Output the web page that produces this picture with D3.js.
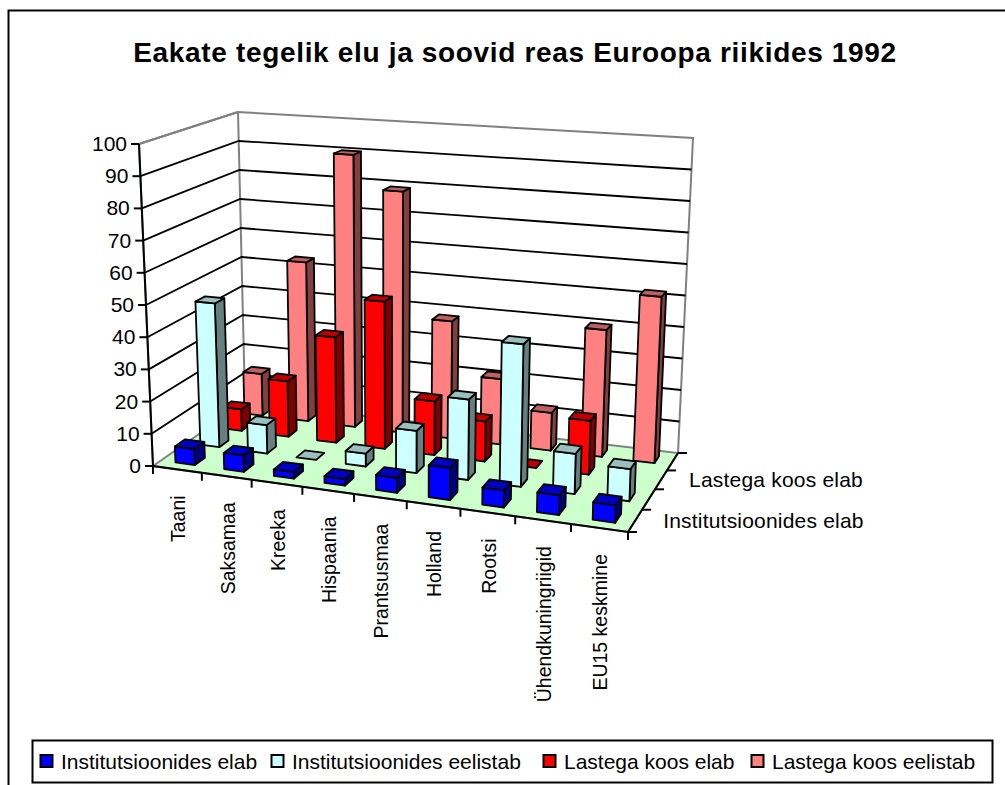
<!DOCTYPE html>
<html><head><meta charset="utf-8">
<script src="https://cdn.jsdelivr.net/npm/d3@7"></script>
<style>html,body{margin:0;padding:0;background:#fff}svg{display:block}text{font-family:"Liberation Sans",Arial,sans-serif;fill:#000}</style>
</head><body><svg id="c" width="1005" height="785"></svg>
<script>
const title = "Eakate tegelik elu ja soovid reas Euroopa riikides 1992";
const categories = ["Taani","Saksamaa","Kreeka","Hispaania","Prantsusmaa","Holland","Rootsi","Ühendkuningriigid","EU15 keskmine"];
const seriesNames = ["Institutsioonides elab","Institutsioonides eelistab","Lastega koos elab","Lastega koos eelistab"];
const depthLabels = ["Institutsioonides elab","Lastega koos elab"];
const institutsioonidesElab = [5,5,2,2,4.5,9.5,5,5.7,5];
const institutsioonidesEelistab = [46,9,0,4,13,24.5,43,12,9.5];
const lastegaKoosElab = [7,18,34,47,17,12.5,0,16.5,null];
const lastegaKoosEelistab = [14,53,90,79,38,21,12,40,52];
const seriesValues = [institutsioonidesElab,institutsioonidesEelistab,lastegaKoosElab,lastegaKoosEelistab];
const valueTicks = [0,10,20,30,40,50,60,70,80,90,100];
const fills = ["#0000ff","#ccffff","#ff0000","#ff8080"];
const tops  = ["#0000c0","#99bfbf","#c00000","#bf6060"];
const sides = ["#000080","#668080","#800000","#804040"];

const box = {FL0:[153,466],FR0:[628,532],BL0:[245,402],BR0:[678,453],
             FL1:[139,144],FR1:[639,178],BL1:[238,112],BR1:[693,138]};
const warp = r => t => t/(t+(1-t)*r);
const xw = warp(1.09), zw = warp(0.85);
const xS = d3.scaleLinear().domain([0,categories.length]).range([0,1]);
const zS = d3.scaleLinear().domain([0,seriesNames.length]).range([0,1]);
const yS = d3.scaleLinear().domain([0,100]).range([0,1]);
const mix=(a,b,t)=>[a[0]+(b[0]-a[0])*t,a[1]+(b[1]-a[1])*t];
function P(c,s,v){
  const u=xw(xS(c)),w=zw(zS(s)),h=yS(v);
  const b0=mix(mix(box.FL0,box.FR0,u),mix(box.BL0,box.BR0,u),w);
  const b1=mix(mix(box.FL1,box.FR1,u),mix(box.BL1,box.BR1,u),w);
  return mix(b0,b1,h);
}
const line=d3.line().curve(d3.curveLinearClosed);
const open=d3.line();
const svg=d3.select("#c");
const nc=categories.length, ns=seriesNames.length;
// frame
svg.append("path").attr("d","M8.5,785V10.5H1005").attr("fill","none").attr("stroke","#000").attr("stroke-width",2);
svg.append("text").attr("x",515).attr("y",62).attr("text-anchor","middle").attr("font-size",28).attr("font-weight","bold").attr("letter-spacing",0.67).text(title);
// walls and floor
const g=svg.append("g");
g.append("path").attr("d",line([P(0,0,0),P(nc,0,0),P(nc,ns,0),P(0,ns,0)])).attr("fill","#ccffcc").attr("stroke","#808080").attr("stroke-width",2);
g.append("path").attr("d",open([P(0,0,0),P(0,0,100),P(0,ns,100),P(nc,ns,100),P(nc,ns,0)])).attr("fill","none").attr("stroke","#808080").attr("stroke-width",2);
g.append("path").attr("d",open([P(0,ns,0),P(0,ns,100)])).attr("fill","none").attr("stroke","#808080").attr("stroke-width",2);
// gridlines
g.selectAll("path.grid").data(valueTicks.filter(d=>d>0&&d<100)).join("path").attr("class","grid")
 .attr("d",d=>open([P(0,0,d),P(0,ns,d),P(nc,ns,d)])).attr("fill","none").attr("stroke","#000").attr("stroke-width",1.8);
g.append("path").attr("d",open([P(0,0,100),P(0,ns,100)])).attr("fill","none").attr("stroke","#808080").attr("stroke-width",2);
// axes
const ax=svg.append("g").attr("stroke","#000").attr("stroke-width",2).attr("fill","none");
ax.append("path").attr("d",open([P(0,0,100),P(0,0,0),P(nc,0,0),P(nc,ns,0)]));
valueTicks.forEach(v=>{const p=P(0,0,v);ax.append("path").attr("d",open([p,[p[0]-8,p[1]]]));});
d3.range(nc+1).forEach(c=>{const p=P(c,0,0);ax.append("path").attr("d",open([p,[p[0],p[1]+8]]));});
d3.range(ns+1).forEach(s=>{const p=P(nc,s,0);ax.append("path").attr("d",open([p,[p[0]+9,p[1]]]));});
// bars
const bw=0.4,m=0.3;
for(let s=ns-1;s>=0;s--){
  seriesValues[s].forEach((v,c)=>{
    if(v===null)return;
    const c0=c+m,c1=c+m+bw,s0=s+m,s1=s+m+bw;
    const bg=svg.append("g").attr("stroke","#000").attr("stroke-width",1.8).attr("stroke-linejoin","round");
    if(v>0){
      bg.append("path").attr("d",line([P(c1,s0,0),P(c1,s1,0),P(c1,s1,v),P(c1,s0,v)])).attr("fill",sides[s]);
      bg.append("path").attr("d",line([P(c0,s0,0),P(c1,s0,0),P(c1,s0,v),P(c0,s0,v)])).attr("fill",fills[s]);
    }
    bg.append("path").attr("d",line([P(c0,s0,v),P(c1,s0,v),P(c1,s1,v),P(c0,s1,v)])).attr("fill",tops[s]);
  });
}
// labels
valueTicks.forEach(v=>{const p=P(0,0,v);svg.append("text").attr("x",p[0]-12).attr("y",p[1]+7).attr("text-anchor","end").attr("font-size",21).text(v);});
categories.forEach((t,c)=>{const p=P(c+0.5,0,0);
  svg.append("text").attr("transform",`translate(${p[0]+8},${p[1]+26}) rotate(-90)`).attr("text-anchor","end").attr("font-size",19.5).text(t);});
depthLabels.forEach((t,i)=>{const p=P(nc,i*2+0.5,0);
  svg.append("text").attr("x",p[0]+28).attr("y",p[1]+7).attr("font-size",21).attr("letter-spacing",0.2).text(t);});
// legend
svg.append("rect").attr("x",32.5).attr("y",740.5).attr("width",960).attr("height",42).attr("fill","#fff").attr("stroke","#000").attr("stroke-width",2);
const legendX=[40,271,543,751];
seriesNames.forEach((t,i)=>{
  svg.append("rect").attr("x",legendX[i]+.5).attr("y",755).attr("width",12).attr("height",12).attr("fill",fills[i]).attr("stroke","#000").attr("stroke-width",2);
  svg.append("text").attr("x",legendX[i]+21).attr("y",769).attr("font-size",21).text(t);
});
</script></body></html>
